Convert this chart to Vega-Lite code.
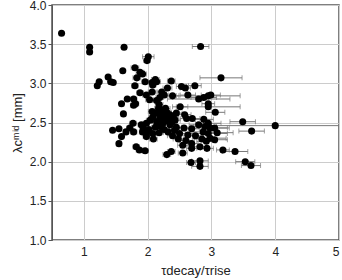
{
  "$schema": "https://vega.github.io/schema/vega-lite/v6.json",
  "width": 287,
  "height": 235,
  "autosize": "none",
  "padding": {"left": 52, "top": 5, "right": 3, "bottom": 40},
  "config": {
    "view": {"stroke": "#555555", "strokeWidth": 1.5},
    "font": "Liberation Sans",
    "axis": {
      "labelFont": "Liberation Sans", "titleFont": "Liberation Sans",
      "labelFontSize": 12, "titleFontSize": 13, "titleFontWeight": "normal",
      "labelColor": "#222222", "titleColor": "#222222",
      "gridColor": "#cccccc", "gridWidth": 1, "gridOpacity": 1,
      "domainColor": "#555555", "tickColor": "#555555"
    }
  },
  "data": {"values": [
    {"x": 0.65, "y": 3.64, "e": 0},
    {"x": 1.09, "y": 3.46, "e": 0},
    {"x": 1.09, "y": 3.40, "e": 0},
    {"x": 1.63, "y": 3.46, "e": 0},
    {"x": 2.83, "y": 3.47, "e": 0.13},
    {"x": 2.01, "y": 3.34, "e": 0.09},
    {"x": 1.99, "y": 3.29, "e": 0.05},
    {"x": 1.80, "y": 3.20, "e": 0.06},
    {"x": 1.61, "y": 3.16, "e": 0},
    {"x": 1.88, "y": 3.14, "e": 0.06},
    {"x": 1.92, "y": 3.12, "e": 0.06},
    {"x": 1.38, "y": 3.08, "e": 0},
    {"x": 3.15, "y": 3.07, "e": 0.33},
    {"x": 1.83, "y": 3.07, "e": 0.06},
    {"x": 1.24, "y": 3.02, "e": 0},
    {"x": 1.21, "y": 2.97, "e": 0},
    {"x": 1.46, "y": 3.01, "e": 0},
    {"x": 1.42, "y": 3.02, "e": 0},
    {"x": 2.12, "y": 3.05, "e": 0.06},
    {"x": 2.14, "y": 3.02, "e": 0.06},
    {"x": 1.96, "y": 3.02, "e": 0.05},
    {"x": 2.37, "y": 3.03, "e": 0.06},
    {"x": 1.80, "y": 2.97, "e": 0.05},
    {"x": 2.07, "y": 3.01, "e": 0.05},
    {"x": 2.08, "y": 2.98, "e": 0.05},
    {"x": 2.53, "y": 2.96, "e": 0.08},
    {"x": 2.59, "y": 2.94, "e": 0.08},
    {"x": 2.74, "y": 2.97, "e": 0.1},
    {"x": 2.31, "y": 2.94, "e": 0.07},
    {"x": 1.88, "y": 2.88, "e": 0.05},
    {"x": 2.07, "y": 2.89, "e": 0.06},
    {"x": 2.22, "y": 2.89, "e": 0.07},
    {"x": 1.98, "y": 2.85, "e": 0.06},
    {"x": 2.26, "y": 2.85, "e": 0.07},
    {"x": 2.39, "y": 2.84, "e": 0.1},
    {"x": 2.63, "y": 2.85, "e": 0.12},
    {"x": 2.80, "y": 2.80, "e": 0.49},
    {"x": 2.88, "y": 2.82, "e": 0.2},
    {"x": 2.95, "y": 2.84, "e": 0.5},
    {"x": 2.99, "y": 2.85, "e": 0.15},
    {"x": 1.68, "y": 2.80, "e": 0},
    {"x": 1.78, "y": 2.80, "e": 0.05},
    {"x": 2.19, "y": 2.82, "e": 0.06},
    {"x": 2.14, "y": 2.78, "e": 0.06},
    {"x": 1.78, "y": 2.72, "e": 0.05},
    {"x": 1.59, "y": 2.74, "e": 0},
    {"x": 1.81, "y": 2.74, "e": 0.05},
    {"x": 2.51, "y": 2.70, "e": 0.12},
    {"x": 2.95, "y": 2.74, "e": 0.1},
    {"x": 2.95, "y": 2.70, "e": 0.5},
    {"x": 3.06, "y": 2.63, "e": 0.15},
    {"x": 1.62, "y": 2.61, "e": 0},
    {"x": 2.07, "y": 2.64, "e": 0.06},
    {"x": 2.14, "y": 2.62, "e": 0.06},
    {"x": 2.24, "y": 2.66, "e": 0.07},
    {"x": 2.30, "y": 2.63, "e": 0.07},
    {"x": 2.08, "y": 2.57, "e": 0.06},
    {"x": 2.19, "y": 2.55, "e": 0.07},
    {"x": 2.29, "y": 2.55, "e": 0.07},
    {"x": 2.40, "y": 2.57, "e": 0.08},
    {"x": 2.35, "y": 2.60, "e": 0.08},
    {"x": 2.27, "y": 2.59, "e": 0.07},
    {"x": 2.14, "y": 2.51, "e": 0.06},
    {"x": 2.24, "y": 2.49, "e": 0.07},
    {"x": 2.35, "y": 2.47, "e": 0.08},
    {"x": 2.43, "y": 2.53, "e": 0.08},
    {"x": 2.20, "y": 2.45, "e": 0.07},
    {"x": 2.32, "y": 2.52, "e": 0.07},
    {"x": 2.58, "y": 2.60, "e": 0.1},
    {"x": 2.61, "y": 2.55, "e": 0.1},
    {"x": 2.70, "y": 2.55, "e": 0.12},
    {"x": 2.88, "y": 2.54, "e": 0.15},
    {"x": 2.95, "y": 2.49, "e": 0.2},
    {"x": 2.98, "y": 2.43, "e": 0.3},
    {"x": 3.05, "y": 2.43, "e": 0.2},
    {"x": 3.49, "y": 2.51, "e": 0.2},
    {"x": 4.00, "y": 2.46, "e": 1.0},
    {"x": 3.63, "y": 2.39, "e": 0.2},
    {"x": 3.09, "y": 2.37, "e": 0.25},
    {"x": 1.45, "y": 2.40, "e": 0},
    {"x": 1.55, "y": 2.42, "e": 0},
    {"x": 1.66, "y": 2.38, "e": 0.04},
    {"x": 1.72, "y": 2.43, "e": 0.05},
    {"x": 1.78, "y": 2.38, "e": 0.05},
    {"x": 1.77, "y": 2.49, "e": 0.05},
    {"x": 1.59, "y": 2.32, "e": 0},
    {"x": 1.55, "y": 2.23, "e": 0.04},
    {"x": 1.98, "y": 2.49, "e": 0.05},
    {"x": 1.93, "y": 2.43, "e": 0.05},
    {"x": 1.90, "y": 2.47, "e": 0.05},
    {"x": 1.98, "y": 2.36, "e": 0.05},
    {"x": 1.98, "y": 2.32, "e": 0.05},
    {"x": 2.08, "y": 2.36, "e": 0.06},
    {"x": 2.09, "y": 2.29, "e": 0.06},
    {"x": 2.18, "y": 2.37, "e": 0.06},
    {"x": 2.32, "y": 2.38, "e": 0.07},
    {"x": 2.39, "y": 2.33, "e": 0.08},
    {"x": 2.48, "y": 2.29, "e": 0.08},
    {"x": 2.57, "y": 2.43, "e": 0.1},
    {"x": 2.63, "y": 2.34, "e": 0.1},
    {"x": 2.69, "y": 2.23, "e": 0.1},
    {"x": 2.69, "y": 2.42, "e": 0.12},
    {"x": 2.80, "y": 2.47, "e": 0.15},
    {"x": 2.87, "y": 2.38, "e": 0.2},
    {"x": 2.95, "y": 2.36, "e": 0.3},
    {"x": 2.98, "y": 2.30, "e": 0.25},
    {"x": 2.92, "y": 2.26, "e": 0.15},
    {"x": 3.05, "y": 2.28, "e": 0.2},
    {"x": 2.55, "y": 2.21, "e": 0.08},
    {"x": 2.69, "y": 2.17, "e": 0.08},
    {"x": 2.82, "y": 2.19, "e": 0.1},
    {"x": 2.93, "y": 2.17, "e": 0.1},
    {"x": 3.18, "y": 2.15, "e": 0.1},
    {"x": 3.37, "y": 2.13, "e": 0.2},
    {"x": 1.82, "y": 2.19, "e": 0.05},
    {"x": 1.87, "y": 2.15, "e": 0.05},
    {"x": 1.96, "y": 2.14, "e": 0.05},
    {"x": 2.37, "y": 2.13, "e": 0.06},
    {"x": 2.30, "y": 2.09, "e": 0.06},
    {"x": 2.55, "y": 2.11, "e": 0.07},
    {"x": 2.68, "y": 1.99, "e": 0.07},
    {"x": 2.82, "y": 2.01, "e": 0.13},
    {"x": 2.82, "y": 1.94, "e": 0.13},
    {"x": 3.53, "y": 2.00, "e": 0.15},
    {"x": 3.62, "y": 1.95, "e": 0.15},
    {"x": 2.22, "y": 2.62, "e": 0.07},
    {"x": 2.28, "y": 2.68, "e": 0.07},
    {"x": 2.33, "y": 2.57, "e": 0.08},
    {"x": 2.38, "y": 2.50, "e": 0.08},
    {"x": 2.45, "y": 2.44, "e": 0.08},
    {"x": 2.12, "y": 2.44, "e": 0.06},
    {"x": 2.02, "y": 2.41, "e": 0.05},
    {"x": 2.26, "y": 2.41, "e": 0.07},
    {"x": 2.42, "y": 2.40, "e": 0.08},
    {"x": 2.50, "y": 2.36, "e": 0.09},
    {"x": 2.60, "y": 2.27, "e": 0.1},
    {"x": 2.85, "y": 2.29, "e": 0.12},
    {"x": 2.90, "y": 2.45, "e": 0.18},
    {"x": 2.75, "y": 2.33, "e": 0.12},
    {"x": 1.92, "y": 2.38, "e": 0.05},
    {"x": 2.04, "y": 2.53, "e": 0.06},
    {"x": 2.17, "y": 2.68, "e": 0.06},
    {"x": 2.45, "y": 2.62, "e": 0.09},
    {"x": 2.18, "y": 2.73, "e": 0.06},
    {"x": 2.03, "y": 2.79, "e": 0.06}
  ]},
  "encoding": {
    "x": {"field": "x", "type": "quantitative",
          "scale": {"domain": [0.5, 5], "nice": false, "zero": false},
          "axis": {"values": [1, 2, 3, 4, 5], "format": "d", "ticks": false, "domain": false, "title": "τdecay/τrise", "titlePadding": 7, "labelPadding": 6, "labelOverlap": false}},
    "y": {"field": "y", "type": "quantitative",
          "scale": {"domain": [1, 4], "nice": false, "zero": false},
          "axis": {"values": [1, 1.5, 2, 2.5, 3, 3.5, 4], "format": ".1f", "tickSize": 4, "title": "λcᵐⁱᵈ [mm]", "titlePadding": 5, "labelOverlap": false}}
  },
  "layer": [
    {
      "mark": {"type": "errorbar", "ticks": {"size": 5, "color": "#777777"}, "rule": {"color": "#777777"}, "clip": true},
      "encoding": {
        "xError": {"field": "e"}
      }
    },
    {
      "mark": {"type": "circle", "size": 50, "color": "#000000", "opacity": 1}
    }
  ]
}
